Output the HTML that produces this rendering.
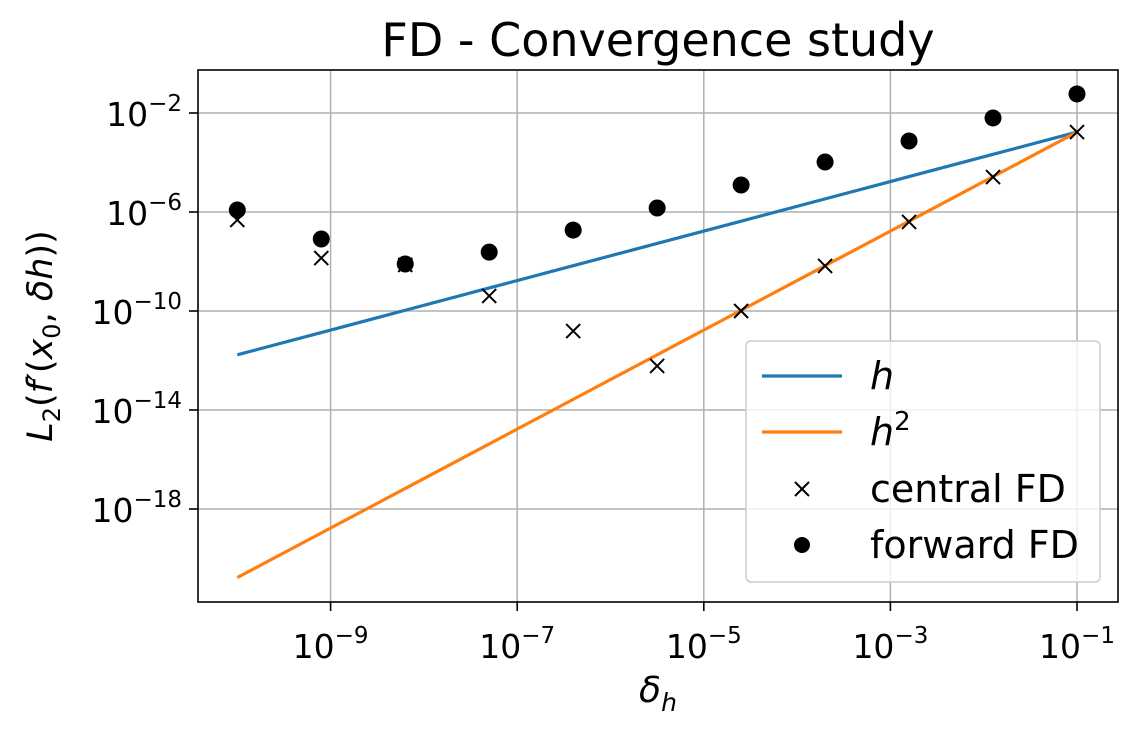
<!DOCTYPE html>
<html><head><meta charset="utf-8"><style>
body{margin:0;background:#fff;font-family:"Liberation Sans","DejaVu Sans",sans-serif}
svg text{font-family:"DejaVu Sans","Liberation Sans",sans-serif;fill:#000}
</style></head><body>
<svg id="chart" width="1142" height="734">
<rect width="1142" height="734" fill="#fff"/>
<g id="grid"></g>
<g id="lines"></g>
<g id="marks"></g>
<rect x="198" y="70" width="920" height="532" fill="none" stroke="#000" stroke-width="1.6"/>
<g id="ticks"></g>
<text x="658" y="56" style="font-size:46px" text-anchor="middle">FD - Convergence study</text>
<text x="658" y="702" style="font-size:36px" text-anchor="middle" font-style="italic">δ<tspan style="font-size:25px" dy="9">h</tspan></text>
<text transform="translate(52,336) rotate(-90)" style="font-size:35px" text-anchor="middle"><tspan font-style="italic">L</tspan><tspan style="font-size:24px" dy="8">2</tspan><tspan dy="-8">(</tspan><tspan font-style="italic">f′</tspan>(<tspan font-style="italic">x</tspan><tspan style="font-size:24px" dy="8">0</tspan><tspan dy="-8">, </tspan><tspan font-style="italic">δh</tspan>))</text>
<g>
<rect x="746" y="341" width="354" height="241" rx="5" fill="#fff" fill-opacity="0.8" stroke="#ccc" stroke-width="1.5"/>
<line x1="762" y1="376" x2="842" y2="376" stroke="#1f77b4" stroke-width="3.2"/>
<text x="870" y="389" style="font-size:38px" font-style="italic">h</text>
<line x1="762" y1="432" x2="842" y2="432" stroke="#ff7f0e" stroke-width="3.2"/>
<text x="870" y="445" style="font-size:38px"><tspan font-style="italic">h</tspan><tspan style="font-size:26px" dy="-15">2</tspan></text>
<path d="M795,482 l14,14 M809,482 l-14,14" stroke="#000" stroke-width="2"/>
<text x="870" y="502" style="font-size:38px">central FD</text>
<circle cx="802" cy="545" r="8" fill="#000"/>
<text x="870" y="558" style="font-size:38px">forward FD</text>
</g>
</svg>
<script>
const hLogs=[-10,-9.1,-8.2,-7.3,-6.4,-5.5,-4.6,-3.7,-2.8,-1.9,-1.0];
const centralLog=[-6.32,-7.86,-8.14,-9.39,-10.81,-12.22,-10.0,-8.18,-6.40,-4.59,-2.77];
const forwardLog=[-5.92,-7.09,-8.10,-7.62,-6.73,-5.84,-4.91,-3.98,-3.13,-2.20,-1.23];
const refScaleLog=-2.77;
const xTicks=[-9,-7,-5,-3,-1];
const yTicks=[-2,-6,-10,-14,-18];
const NS="http://www.w3.org/2000/svg";
const X=l=>1077+(l+1)*93.3;
const Y=l=>113+(-2-l)*24.75;
function mk(t,a,p){const e=document.createElementNS(NS,t);for(const k in a)e.setAttribute(k,a[k]);p.appendChild(e);return e;}
const grid=document.getElementById('grid'),ticks=document.getElementById('ticks'),lines=document.getElementById('lines'),marks=document.getElementById('marks');
xTicks.forEach(t=>{
 const g=mk('line',{x1:X(t),x2:X(t),y1:70,y2:602,stroke:'#b0b0b0','stroke-width':1.5},grid);
 
 
 mk('line',{x1:X(t),x2:X(t),y1:602,y2:611,stroke:'#000','stroke-width':1.6},ticks);
 const tx=mk('text',{x:X(t),y:658,style:'font-size:33px','text-anchor':'middle'},ticks);
 tx.innerHTML='10<tspan style="font-size:23px" dy="-15">−'+(-t)+'</tspan>';
 
 
});
yTicks.forEach(t=>{
 const g=mk('line',{x1:198,x2:1118,y1:Y(t),y2:Y(t),stroke:'#b0b0b0','stroke-width':1.5},grid);
 
 
 mk('line',{x1:189,x2:198,y1:Y(t),y2:Y(t),stroke:'#000','stroke-width':1.6},ticks);
 const tx=mk('text',{x:182,y:Y(t)+13,style:'font-size:33px','text-anchor':'end'},ticks);
 tx.innerHTML='10<tspan style="font-size:23px" dy="-15">−'+(-t)+'</tspan>';
 
 
});
const h0=hLogs[hLogs.length-1];
const l1=mk('polyline',{points:hLogs.map(l=>X(l)+','+Y(refScaleLog+(l-h0))).join(' '),fill:'none',stroke:'#1f77b4','stroke-width':3.2},lines);


const l2=mk('polyline',{points:hLogs.map(l=>X(l)+','+Y(refScaleLog+2*(l-h0))).join(' '),fill:'none',stroke:'#ff7f0e','stroke-width':3.2},lines);


hLogs.forEach((l,i)=>{
 const c=mk('circle',{cx:X(l),cy:Y(forwardLog[i]),r:8.5,fill:'#000'},marks);
 
 
});
hLogs.forEach((l,i)=>{
 const x=X(l),y=Y(centralLog[i]);
 const p=mk('path',{d:`M${x-7},${y-7} L${x+7},${y+7} M${x+7},${y-7} L${x-7},${y+7}`,stroke:'#000','stroke-width':2},marks);
 
 
});
</script>
</body></html>
